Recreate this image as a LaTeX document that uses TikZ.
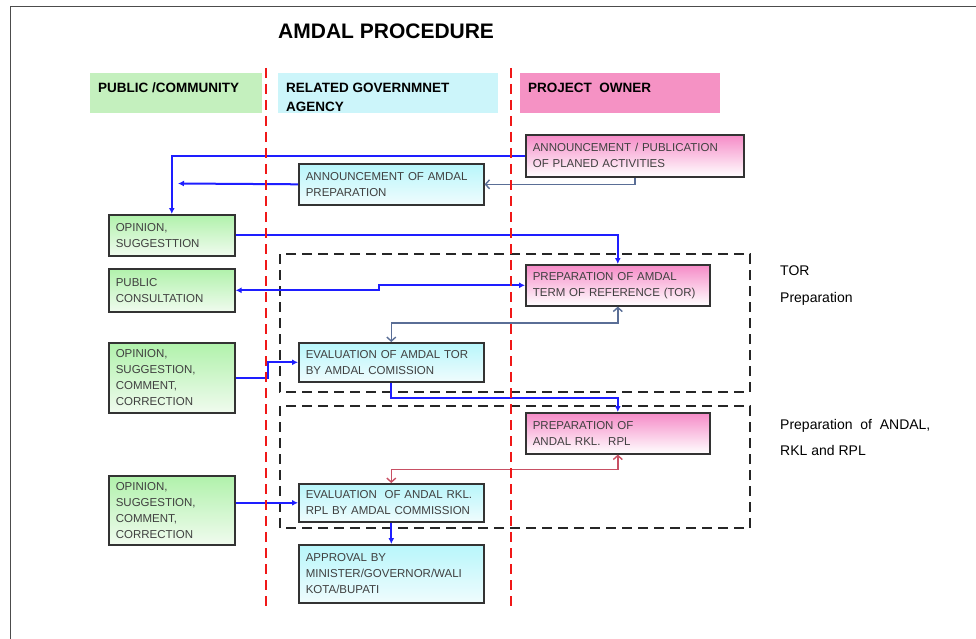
\documentclass[tikz,border=0pt]{standalone}
\usepackage{fontspec}
\setmainfont{Liberation Sans}
\usetikzlibrary{arrows.meta}

\definecolor{hdrgreen}{HTML}{C4F0BE}
\definecolor{hdrcyan}{HTML}{CCF5FA}
\definecolor{hdrpink}{HTML}{F592C4}
\definecolor{boxline}{HTML}{333333}
\definecolor{boxtext}{HTML}{404040}
\definecolor{flowblue}{HTML}{1E1EFF}
\definecolor{replygray}{HTML}{5A6E96}
\definecolor{revisered}{HTML}{C85064}
\definecolor{lanered}{HTML}{F01818}

\tikzset{
  box/.style={draw=boxline, line width=1.6pt, anchor=north west, align=left,
    inner xsep=7pt, inner ysep=2pt, text=boxtext, font=\fontsize{11.5}{16}\selectfont},
  greenbox/.style={box, top color=hdrgreen!90!green, bottom color=hdrgreen!25, text width=112pt},
  govbox/.style={box, top color=hdrcyan!90!cyan, bottom color=hdrcyan!30, text width=171pt},
  ownerbox/.style={box, top color=hdrpink!95!magenta, bottom color=white, text width=170pt},
  hdr/.style={anchor=north west, inner sep=0pt, align=left, font=\bfseries\fontsize{13.5}{19}\selectfont},
  side/.style={anchor=north west, inner sep=0pt, align=left, font=\fontsize{14}{26.5}\selectfont},
  title/.style={inner sep=0pt, font=\bfseries\fontsize{21}{25}\selectfont},
  flow/.style={draw=flowblue, line width=2pt, -{Latex[length=6pt,width=6pt]}},
  bothflow/.style={flow, {Latex[length=6pt,width=6pt]}-{Latex[length=6pt,width=6pt]}},
  reply/.style={draw=replygray, line width=1.4pt, {Straight Barb[length=4pt,width=9pt]}-{Straight Barb[length=4pt,width=9pt]}},
  replyone/.style={reply, -{Straight Barb[length=4pt,width=9pt]}},
  revise/.style={reply, draw=revisered},
  group/.style={draw=black!85, line width=2pt, dash pattern=on 10pt off 6pt},
  lane/.style={draw=lanered, line width=2.6pt, dash pattern=on 10pt off 6pt},
  frame/.style={draw=black!70, line width=1pt}
}

\begin{document}
\begin{tikzpicture}[x=1pt, y=-1pt]
\useasboundingbox (0,0) rectangle (976,639);
\draw[frame] (10,639) |- (976,7);

\node[title, anchor=base west] (title) at (278,39) {AMDAL PROCEDURE};

\fill[hdrgreen] (90,73) rectangle (262,113);
\fill[hdrcyan] (278,73) rectangle (498,113);
\fill[hdrpink] (520,73) rectangle (720,113);
\node[hdr] (hpub) at (98,83) {PUBLIC /COMMUNITY};
\node[hdr] (hgov) at (286,83) {RELATED GOVERNMNET\\AGENCY};
\node[hdr] (howner) at (528,83) {PROJECT\ \ OWNER};

\draw[group] (280,254) rectangle (750,392);
\draw[group] (280,406) rectangle (750,528);

\node[ownerbox, text width=204pt, minimum height=42pt] (annpub) at (525,134) {ANNOUNCEMENT / PUBLICATION\\OF PLANED ACTIVITIES};
\node[govbox, minimum height=41pt] (annamdal) at (298,163) {ANNOUNCEMENT OF AMDAL\\PREPARATION};
\node[greenbox, minimum height=41pt] (opin1) at (108,214) {OPINION,\\SUGGESTTION};
\node[greenbox, minimum height=43pt] (pubcons) at (108,268) {PUBLIC\\CONSULTATION};
\node[ownerbox, minimum height=41pt] (preptor) at (525,264) {PREPARATION OF AMDAL\\TERM OF REFERENCE (TOR)};
\node[greenbox, minimum height=70pt] (opin2) at (108,342) {OPINION,\\SUGGESTION,\\COMMENT,\\CORRECTION};
\node[govbox, minimum height=39pt] (evaltor) at (298,342) {EVALUATION OF AMDAL TOR\\BY AMDAL COMISSION};
\node[ownerbox, minimum height=41pt] (prepandal) at (525,412) {PREPARATION OF\\ANDAL RKL.\ \ RPL};
\node[greenbox, minimum height=69pt] (opin3) at (108,475) {OPINION,\\SUGGESTION,\\COMMENT,\\CORRECTION};
\node[govbox, minimum height=38pt] (evalandal) at (298,483) {EVALUATION\ \ OF ANDAL RKL.\\RPL BY AMDAL COMMISSION};
\node[govbox, minimum height=58pt] (approval) at (298,544) {APPROVAL BY\\MINISTER/GOVERNOR/WALI\\KOTA/BUPATI};

\node[side] (torlbl) at (780,266) {TOR\\Preparation};
\node[side] (andallbl) at (780,419) {Preparation\ \ of\ \ ANDAL,\\RKL and RPL};

\coordinate (annend) at (178,183.5);
\coordinate (pcstep) at (379,0);
\draw[flow] (annpub.west) -| (opin1.north);
\draw[replyone] (annpub.south) |- (annamdal.east);
\draw[flow] (annamdal.west) -- (annend);
\draw[flow] (opin1.east) -| (preptor.north);
\draw[bothflow] (pubcons.east) -| (pcstep |- preptor.west) -- (preptor.west);
\draw[reply] (evaltor.north) -- ++(0,-19) -| (preptor.south);
\draw[flow] (opin2.east) -- ++(32,0) |- (evaltor.west);
\draw[flow] (evaltor.south) -- ++(0,15) -| (prepandal.north);
\draw[revise] (prepandal.south) -- ++(0,15) -| (evalandal.north);
\draw[flow] (opin3.east |- evalandal.west) -- (evalandal.west);
\draw[flow] (evalandal.south) -- (approval.north);

\draw[lane] (266,68) -- (266,612);
\draw[lane] (511,68) -- (511,612);
\end{tikzpicture}
\end{document}
